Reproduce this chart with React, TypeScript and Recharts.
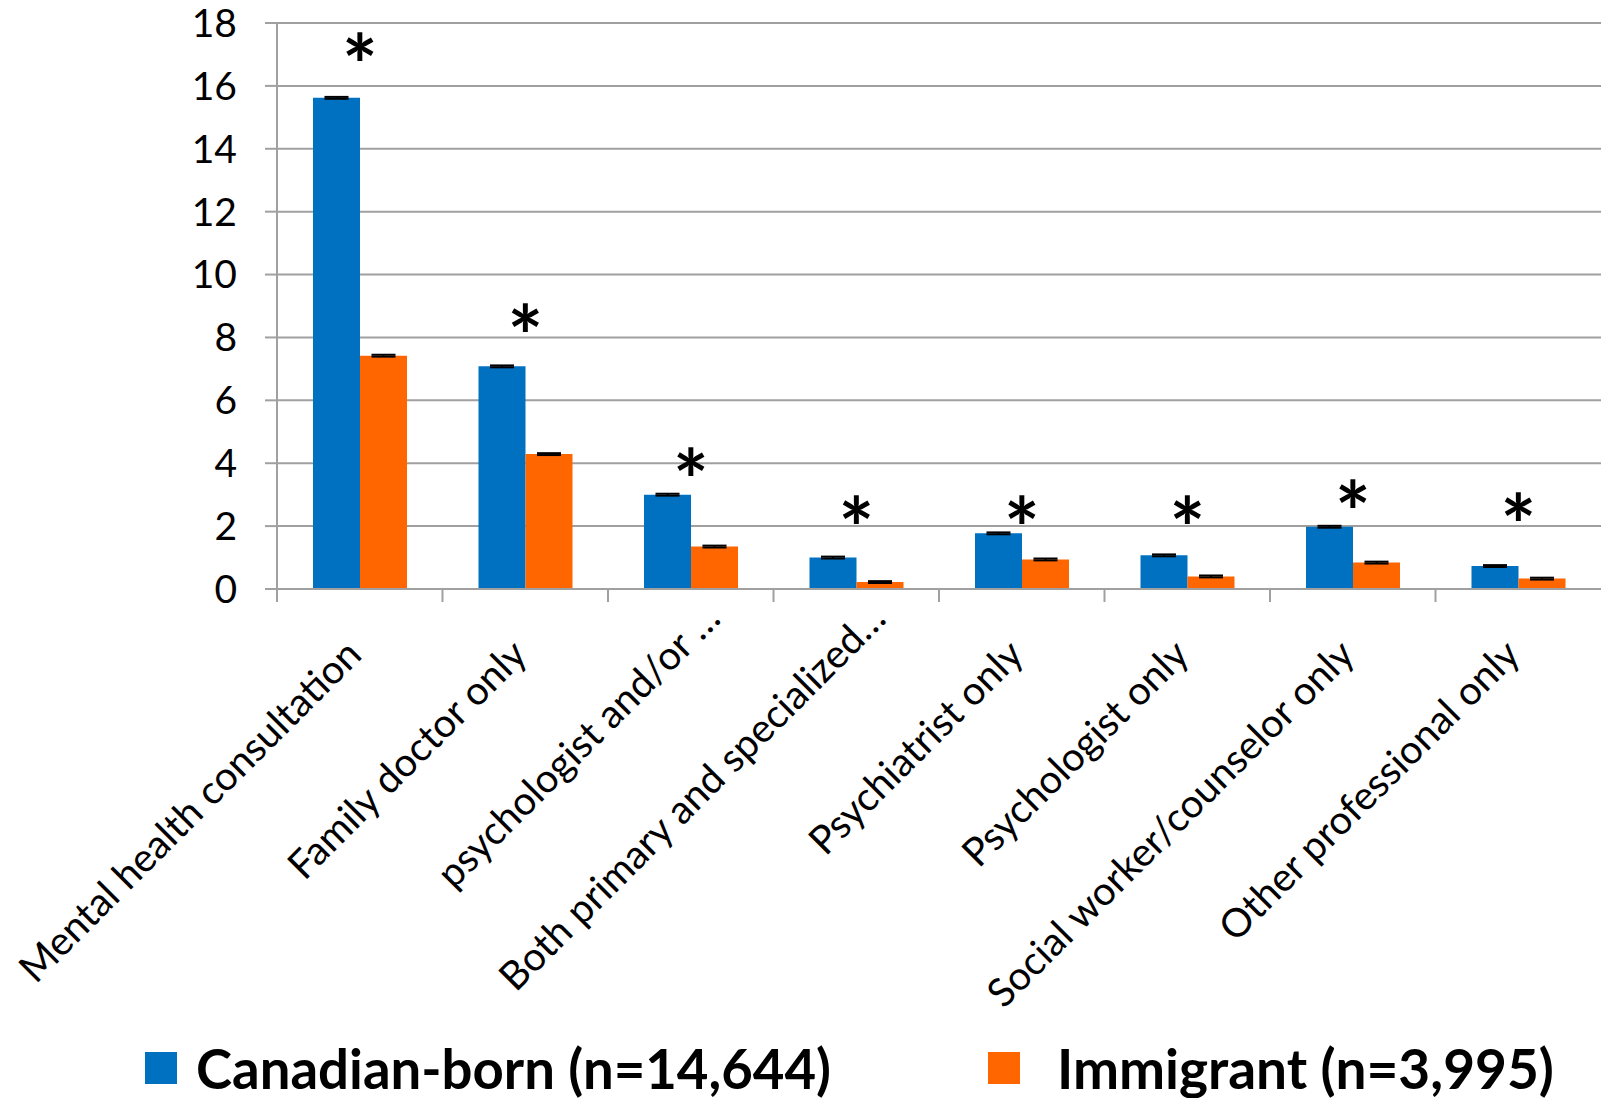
import React from "react";
import {
  ComposedChart,
  Bar,
  Scatter,
  XAxis,
  YAxis,
  CartesianGrid,
  ErrorBar,
  Legend
} from "recharts";

const categories = [
  "Mental health consultation",
  "Family doctor only",
  "psychologist and/or …",
  "Both primary and specialized…",
  "Psychiatrist only",
  "Psychologist only",
  "Social worker/counselor only",
  "Other professional only"
];
const canadianBorn = [15.62, 7.08, 3.0, 1.0, 1.77, 1.07, 1.98, 0.73];
const immigrant = [7.42, 4.29, 1.35, 0.22, 0.94, 0.4, 0.84, 0.33];
const canadianErr = [0.03, 0.03, 0.03, 0.03, 0.03, 0.03, 0.03, 0.03];
const immigrantErr = [0.03, 0.03, 0.03, 0.03, 0.03, 0.03, 0.03, 0.03];
// height of the significance asterisk above each group
const starLevel = [17.15, 8.53, 3.95, 2.43, 2.43, 2.43, 2.94, 2.52];
const yTicks = [0, 2, 4, 6, 8, 10, 12, 14, 16, 18];
const seriesNames = ["Canadian-born (n=14,644)", "Immigrant (n=3,995)"];

const data = categories.map((name, i) => ({
  name,
  canadian: canadianBorn[i],
  canadianErr: canadianErr[i],
  immigrant: immigrant[i],
  immigrantErr: immigrantErr[i],
  star: starLevel[i]
}));

const W = 1601;
const H = 1098;
const AXIS_W = 277;
const BAND = (W - AXIS_W) / categories.length;
const FONT = "Lato, Calibri, 'Open Sans', sans-serif";
const BLUE = "#0070C0";
const ORANGE = "#FF6600";
const GRID = "#a0a0a0";

const CategoryTick = (props: any) => {
  const { x, y, payload } = props;
  const left = x - BAND / 2;
  // truncated labels sit further up-right, as Excel draws them
  const cut = String(payload.value).endsWith("…");
  const tx = x - 16 + (cut ? 28 : 0);
  const ty = y + 48 - (cut ? 36 : 0);
  return (
    <g>
      <line x1={left} y1={y} x2={left} y2={y + 13} stroke={GRID} strokeWidth={2} />
      <text
        x={tx}
        y={ty}
        dy="0.71em"
        transform={`rotate(-45 ${tx} ${ty})`}
        textAnchor="end"
        fontSize={39.5}
        fontFamily={FONT}
        fill="#000"
      >
        {payload.value}
      </text>
    </g>
  );
};

const Star = (props: any) => {
  const { cx, cy } = props;
  return (
    <text
      x={cx}
      y={cy + 46}
      textAnchor="middle"
      fontSize={84}
      fontWeight="bold"
      fontFamily={FONT}
      fill="#000"
    >
      *
    </text>
  );
};

const legendText: React.CSSProperties = {
  position: "absolute",
  top: 0,
  lineHeight: "60px",
  fontWeight: "bold",
  color: "#000",
  whiteSpace: "nowrap"
};

const LegendBox = () => (
  <div style={{ position: "relative", width: W, height: 60, fontFamily: FONT }}>
    <div style={{ position: "absolute", left: 145, top: 14, width: 32, height: 32, background: BLUE }} />
    <div style={{ ...legendText, left: 196, fontSize: 54.5 }}>{seriesNames[0]}</div>
    <div style={{ position: "absolute", left: 988, top: 14, width: 32, height: 32, background: ORANGE }} />
    <div style={{ ...legendText, left: 1057, fontSize: 55 }}>{seriesNames[1]}</div>
  </div>
);

export default function App() {
  return (
    <div style={{ position: "absolute", left: 0, top: 0, width: W, height: H, background: "#fff" }}>
      <ComposedChart
        width={W}
        height={H}
        data={data}
        margin={{ top: 23, right: 0, bottom: 0, left: 0 }}
        barGap={0}
      >
        <CartesianGrid vertical={false} stroke={GRID} strokeWidth={2} />
        <XAxis
          dataKey="name"
          height={449}
          interval={0}
          axisLine={{ stroke: GRID, strokeWidth: 2 }}
          tickLine={false}
          tickSize={0}
          tickMargin={0}
          tick={<CategoryTick />}
        />
        <YAxis
          width={AXIS_W}
          domain={[0, 18]}
          ticks={yTicks}
          interval={0}
          axisLine={{ stroke: GRID, strokeWidth: 2 }}
          tickLine={{ stroke: GRID, strokeWidth: 2 }}
          tickSize={12}
          tickMargin={28}
          tick={{ fontSize: 39, fill: "#000", fontFamily: FONT }}
        />
        <Legend verticalAlign="bottom" content={() => <LegendBox />} />
        <Bar dataKey="canadian" fill={BLUE} barSize={47} isAnimationActive={false}>
          <ErrorBar dataKey="canadianErr" width={12} stroke="#000" strokeWidth={2} direction="y" />
        </Bar>
        <Bar dataKey="immigrant" fill={ORANGE} barSize={47} isAnimationActive={false}>
          <ErrorBar dataKey="immigrantErr" width={12} stroke="#000" strokeWidth={2} direction="y" />
        </Bar>
        <Scatter dataKey="star" shape={<Star />} isAnimationActive={false} legendType="none" />
      </ComposedChart>
    </div>
  );
}
